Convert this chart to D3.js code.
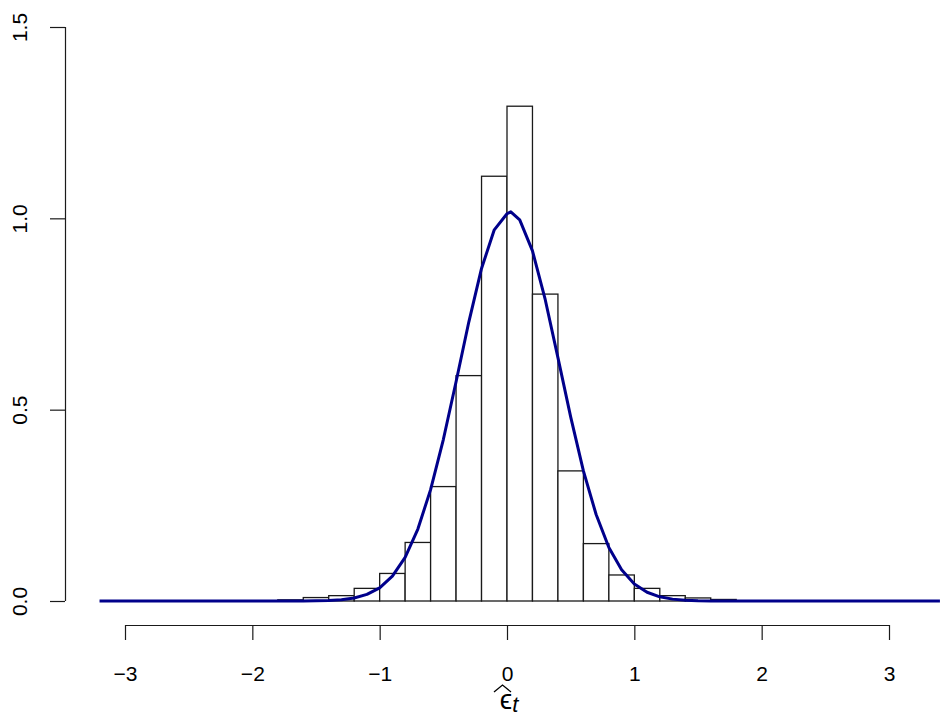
<!DOCTYPE html>
<html>
<head>
<meta charset="utf-8">
<script src="https://cdn.jsdelivr.net/npm/d3@7"></script>
<style>
  html, body { margin: 0; padding: 0; background: #fff; }
  svg { display: block; }
  text { font-family: "Liberation Sans", Arial, Helvetica, sans-serif; }
</style>
</head>
<body>
<svg id="chart" width="949" height="716"></svg>
<script>
// ---- data ----
const binStarts = [-1.8,-1.6,-1.4,-1.2,-1.0,-0.8,-0.6,-0.4,-0.2,0.0,0.2,0.4,0.6,0.8,1.0,1.2,1.4,1.6];
const binWidth = 0.2;
const densities = [0.003,0.009,0.014,0.033,0.072,0.153,0.299,0.589,1.110,1.293,0.802,0.340,0.150,0.068,0.033,0.014,0.008,0.004];

const curveX = [-3.2,-3.0,-2.8,-2.6,-2.4,-2.2,-2.0,-1.8,-1.7,-1.6,-1.5,-1.4,-1.3,-1.2,-1.1,-1.0,-0.9,-0.8,-0.7,-0.6,-0.5,-0.4,-0.3,-0.2,-0.1,0.0,0.03,0.1,0.2,0.3,0.4,0.5,0.6,0.7,0.8,0.9,1.0,1.1,1.2,1.3,1.4,1.5,1.6,1.7,1.8,2.0,2.2,2.4,2.6,2.8,3.0,3.2,3.4];
const curveY = [0,0,0,0,0,0,0,0.00002,0.0001,0.0002,0.0006,0.0014,0.0035,0.0080,0.0172,0.0345,0.0648,0.114,0.188,0.291,0.422,0.573,0.729,0.869,0.970,1.012,1.017,0.996,0.915,0.788,0.636,0.481,0.340,0.226,0.140,0.0819,0.0447,0.0229,0.0110,0.0049,0.0021,0.0008,0.0003,0.0001,0.00002,0,0,0,0,0,0,0,0];

const xTicks = [-3,-2,-1,0,1,2,3];
const yTicks = [0.0,0.5,1.0,1.5];

// ---- layout ----
const svg = d3.select("#chart");
const x = d3.scaleLinear().domain([-3, 3]).range([125, 889]);
const y = d3.scaleLinear().domain([0, 1.5]).range([601, 27]);

// bars
svg.append("g").selectAll("rect")
  .data(binStarts.map((s, i) => ({s, d: densities[i]})))
  .join("rect")
  .attr("x", d => x(d.s))
  .attr("y", d => y(d.d))
  .attr("width", d => x(d.s + binWidth) - x(d.s))
  .attr("height", d => y(0) - y(d.d))
  .attr("fill", "#fff")
  .attr("stroke", "#1a1a1a")
  .attr("stroke-width", 1.3);

// density curve
const line = d3.line().x((d, i) => x(curveX[i])).y(d => y(d)).curve(d3.curveLinear);
svg.append("path")
  .attr("d", line(curveY))
  .attr("fill", "none")
  .attr("stroke", "#00008B")
  .attr("stroke-width", 3)
  .attr("stroke-linejoin", "round");

// x axis
const xAxis = d3.axisBottom(x).tickValues(xTicks).tickSize(15).tickPadding(26)
  .tickFormat(d => d < 0 ? "\u2212" + Math.abs(d) : String(d));
const gx = svg.append("g").attr("transform", "translate(0,625)").call(xAxis);
gx.select(".domain").attr("d", `M${x(-3)},0.5H${x(3)}`).attr("stroke", "#1a1a1a").attr("stroke-width", 1.2);
gx.selectAll(".tick line").attr("stroke", "#1a1a1a").attr("stroke-width", 1.2);
gx.selectAll(".tick text").attr("font-size", 21).attr("fill", "#000")
  .attr("font-family", "Liberation Sans, Arial, sans-serif");

// y axis
const yAxis = d3.axisLeft(y).tickValues(yTicks).tickSize(15)
  .tickFormat(d3.format(".1f"));
const gy = svg.append("g").attr("transform", "translate(65,0)").call(yAxis);
gy.select(".domain").attr("d", `M0.5,${y(0)}V${y(1.5)}`).attr("stroke", "#1a1a1a").attr("stroke-width", 1.2);
gy.selectAll(".tick line").attr("stroke", "#1a1a1a").attr("stroke-width", 1.2);
gy.selectAll(".tick text")
  .attr("font-size", 21).attr("fill", "#000")
  .attr("font-family", "Liberation Sans, Arial, sans-serif")
  .attr("x", null).attr("dy", null)
  .attr("text-anchor", "middle")
  .attr("transform", "translate(-38,0) rotate(-90)");

// x label: widehat(epsilon[t])
const lab = svg.append("text")
  .attr("x", 509).attr("y", 709)
  .attr("font-family", "DejaVu Serif, Liberation Serif, serif")
  .attr("font-size", 28)
  .attr("text-anchor", "middle");
lab.append("tspan").text("\u03F5");
lab.append("tspan").attr("dy", 3).attr("font-size", 22).attr("font-style", "italic").text("t");
svg.append("path")
  .attr("d", "M494,692 L502.5,685 L511,692")
  .attr("fill", "none").attr("stroke", "#000").attr("stroke-width", 1.3);
</script>
</body>
</html>
